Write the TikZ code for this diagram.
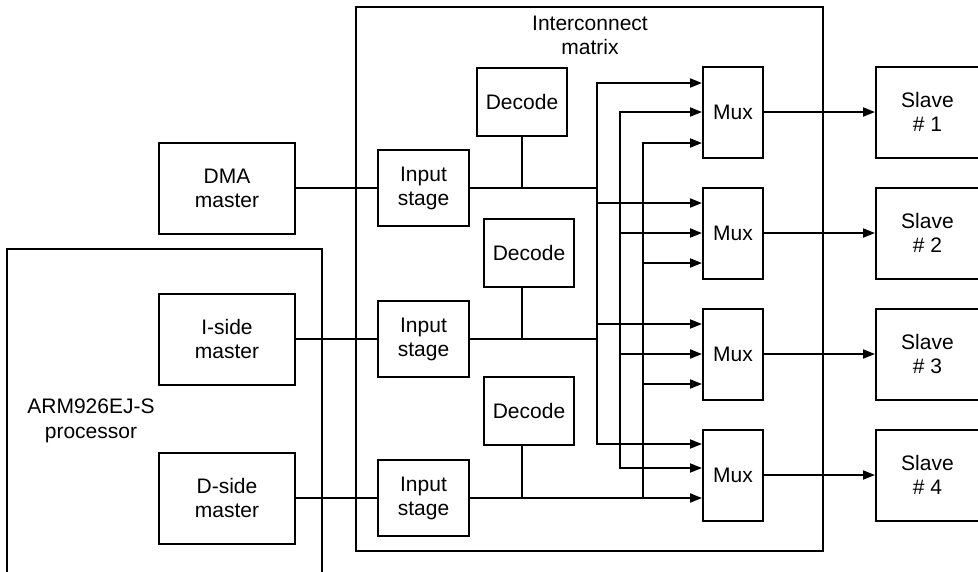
\documentclass[tikz,border=0pt]{standalone}
\usepackage{fontspec}
\setmainfont{Liberation Sans}
\usetikzlibrary{arrows.meta,calc}

\begin{document}
\begin{tikzpicture}[
    x=1pt, y=-1pt,
    box/.style={draw, line width=2pt, inner sep=0pt, align=center,
                font=\fontsize{21}{24}\selectfont},
    txt/.style={align=center, font=\fontsize{21}{24}\selectfont},
    master/.style={box, minimum width=136pt, minimum height=91pt},
    stage/.style={box, minimum width=91pt, minimum height=76pt},
    decode/.style={box, minimum width=90pt, minimum height=68pt},
    mux/.style={box, minimum width=60pt, minimum height=91pt},
    slave/.style={box, minimum width=103pt, minimum height=91pt},
    wire/.style={line width=1.8pt, line cap=rect},
    arrow/.style={-{Triangle[length=12pt, width=9pt]}, line width=1.8pt, line cap=rect}
]
    \useasboundingbox (0,0) rectangle (978,571);

    % Interconnect matrix
    \node[box, minimum width=467pt, minimum height=544pt] (matrix) at (589.5,279) {};
    \node[txt] (matrixlabel) at (590,35) {Interconnect\\matrix};

    % Processor
    \draw[line width=2pt] (7,580) |- (322,249) -- (322,580);
    \node[txt, font=\fontsize{21}{25}\selectfont] (armlabel) at (91,421) {ARM926EJ-S\\processor};

    % Masters
    \node[master] (dma) at (227,188) {DMA\\master};
    \node[master] (iside) at (227,339) {I-side\\master};
    \node[master] (dside) at (227,498) {D-side\\master};

    % Input stages
    \node[stage] (in1) at (423.5,188) {Input\\stage};
    \node[stage] (in2) at (423.5,339) {Input\\stage};
    \node[stage] (in3) at (423.5,498) {Input\\stage};

    % Decoders
    \node[decode] (dec1) at (522,102) {Decode};
    \node[decode] (dec2) at (529,252.5) {Decode};
    \node[decode] (dec3) at (529,411) {Decode};

    % Muxes
    \node[mux] (mux1) at (733,112) {Mux};
    \node[mux] (mux2) at (733,233) {Mux};
    \node[mux] (mux3) at (733,354) {Mux};
    \node[mux] (mux4) at (733,475) {Mux};

    % Slaves
    \node[slave] (slave1) at (927.5,112) {Slave\\\# 1};
    \node[slave] (slave2) at (927.5,233) {Slave\\\# 2};
    \node[slave] (slave3) at (927.5,354) {Slave\\\# 3};
    \node[slave] (slave4) at (927.5,475) {Slave\\\# 4};

    % mux inputs and bus columns
    \foreach \m/\a/\b/\c in {1/-29/0/31, 2/-30/0/30, 3/-30/0/30, 4/-31/-7/23} {
        \coordinate (mux\m a) at ($(mux\m.west)+(0,\a)$);
        \coordinate (mux\m b) at ($(mux\m.west)+(0,\b)$);
        \coordinate (mux\m c) at ($(mux\m.west)+(0,\c)$);
    }
    \coordinate (bus1) at (597,0);
    \coordinate (bus2) at (620,0);
    \coordinate (bus3) at (643,0);

    % masters to input stages
    \draw[wire] (dma) -- (in1);
    \draw[wire] (iside) -- (in2);
    \draw[wire] (dside) -- (in3);

    % decode taps
    \draw[wire] (dec1.south) -- (dec1.south |- in1.east);
    \draw[wire] (dec1.south |- dec2.south) -- (dec1.south |- in2.east);
    \draw[wire] (dec1.south |- dec3.south) -- (dec1.south |- in3.east);

    % buses
    \draw[wire] (in1.east) -- (bus1 |- in1.east);
    \draw[wire] (in2.east) -- (bus1 |- in2.east);
    \draw[arrow] (in3.east) -- (mux4c);
    \draw[wire] (bus1 |- mux1a) -- (bus1 |- mux4a);
    \draw[wire] (bus2 |- mux1b) -- (bus2 |- mux4b);
    \draw[wire] (bus3 |- mux1c) -- (bus3 |- mux4c);
    \foreach \m in {1,...,4} {
        \draw[arrow] (bus1 |- mux\m a) -- (mux\m a);
        \draw[arrow] (bus2 |- mux\m b) -- (mux\m b);
        \draw[arrow] (mux\m) -- (slave\m);
    }
    \foreach \m in {1,2,3} {
        \draw[arrow] (bus3 |- mux\m c) -- (mux\m c);
    }
\end{tikzpicture}
\end{document}
